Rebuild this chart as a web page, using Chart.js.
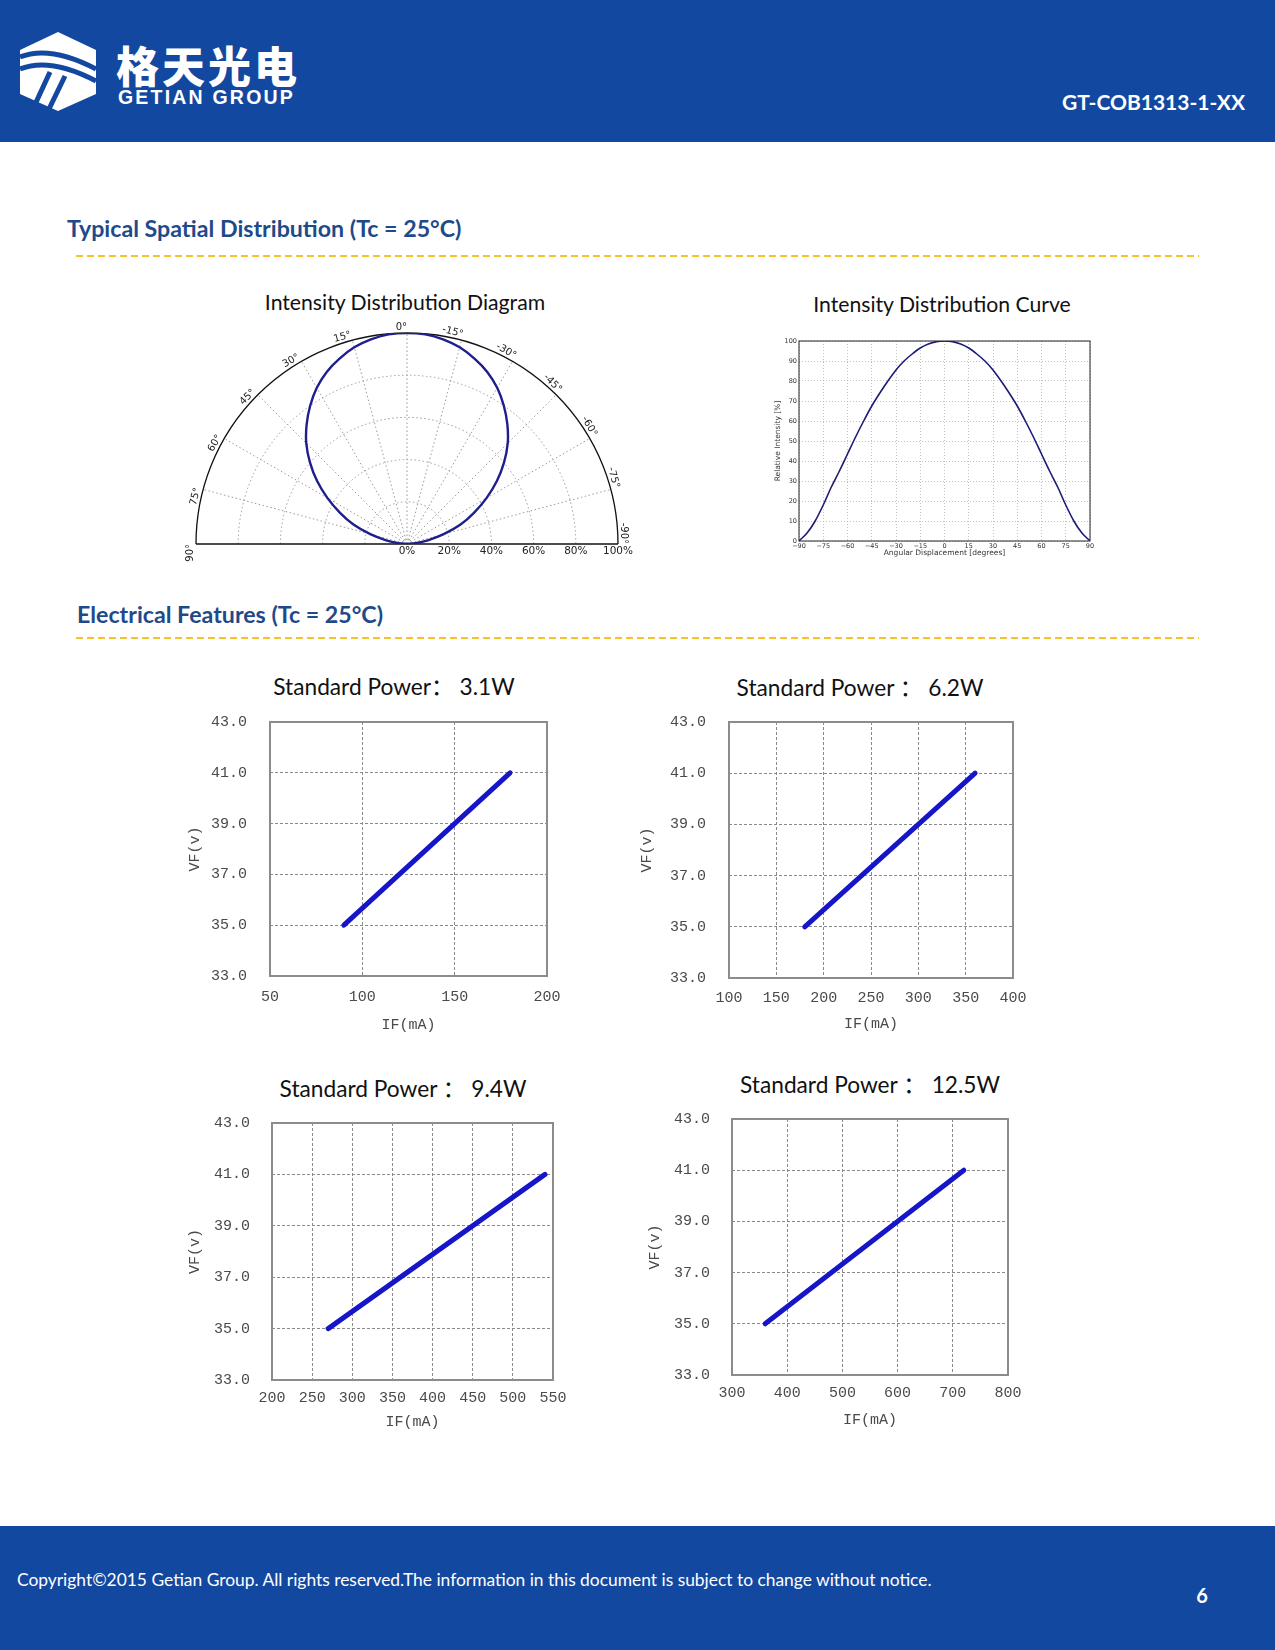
<!DOCTYPE html>
<html lang="en">
<head>
<meta charset="UTF-8" />
<title>GT-COB1313-1-XX — Spatial Distribution &amp; Electrical Features</title>
<script src="https://cdn.jsdelivr.net/npm/chart.js"></script>
<style>
  body { margin: 0; padding: 0; background: #fff; font-family: Lato, "Noto Sans CJK SC", sans-serif; }
  .page { position: relative; width: 1275px; height: 1650px; overflow: hidden; background: #fff; }
  .band { position: absolute; left: 0; width: 1275px; background: #1348a0; }
  .txt { position: absolute; white-space: nowrap; line-height: 1; }
  .mid { transform: translate(-50%, -50%); }
  .vmid { transform: translateY(-50%); }
  .section { font-weight: 700; font-size: 23.2px; color: #1f4a8a; }
  .dash { position: absolute; height: 2px;
    background: repeating-linear-gradient(to right, #f5c42c 0 7px, transparent 7px 11px); }
  .ctitle { font-size: 21.2px; color: #111; }
  .ptitle { font-size: 22.7px; color: #111; }
  canvas { position: absolute; }
</style>
</head>
<body>
<div class="page">
  <!-- header -->
  <div class="band" style="top:0;height:142px"></div>
  <svg style="position:absolute;left:20px;top:32px" width="78" height="79" viewBox="0 0 78 79">
    <polygon points="38,0 76,18 76,62 38,79 0,62 0,18" fill="#fff" />
    <path d="M0,25 Q30,13 76,37" stroke="#1348a0" stroke-width="5" fill="none" />
    <path d="M0,37 Q30,25 76,49" stroke="#1348a0" stroke-width="5" fill="none" />
    <path d="M30,40 L12,79" stroke="#1348a0" stroke-width="5" />
    <path d="M45,44 L28,79" stroke="#1348a0" stroke-width="5" />
  </svg>
  <div class="txt" style="left:116px;top:43px;font-family:'Noto Sans CJK SC';font-weight:900;font-size:43px;letter-spacing:3px;color:#fff">格天光电</div>
  <div class="txt" style="left:118px;top:88px;font-family:'Liberation Sans';font-weight:700;font-size:19.5px;letter-spacing:2.2px;color:#fff">GETIAN GROUP</div>
  <div class="txt" style="right:30px;top:91px;font-weight:700;font-size:21px;color:#fff">GT-COB1313-1-XX</div>

  <!-- spatial distribution -->
  <div class="txt section vmid" style="left:67px;top:229px">Typical Spatial Distribution (Tc = 25°C)</div>
  <div class="dash" style="left:76px;top:255px;width:1123px"></div>
  <div class="txt ctitle mid" style="left:405px;top:303px">Intensity Distribution Diagram</div>
  <div class="txt ctitle mid" style="left:942px;top:305px">Intensity Distribution Curve</div>
  <canvas id="polar"></canvas>
  <canvas id="curve"></canvas>

  <!-- electrical features -->
  <div class="txt section vmid" style="left:77px;top:615px">Electrical Features (Tc = 25°C)</div>
  <div class="dash" style="left:76px;top:637px;width:1123px"></div>
  <div class="txt ptitle mid" style="left:394px;top:687px">Standard Power：&nbsp;3.1W</div>
  <div class="txt ptitle mid" style="left:860px;top:688px">Standard Power ：&nbsp;6.2W</div>
  <div class="txt ptitle mid" style="left:403px;top:1089px">Standard Power ：&nbsp;9.4W</div>
  <div class="txt ptitle mid" style="left:870px;top:1085px">Standard Power ：&nbsp;12.5W</div>
  <canvas id="vf31"></canvas>
  <canvas id="vf62"></canvas>
  <canvas id="vf94"></canvas>
  <canvas id="vf125"></canvas>

  <!-- footer -->
  <div class="band" style="top:1526px;height:124px"></div>
  <div class="txt vmid" style="left:17px;top:1580px;font-size:17.4px;color:#fff">Copyright©2015 Getian Group. All rights reserved.The information in this document is subject to change without notice.</div>
  <div class="txt mid" style="left:1202px;top:1595px;font-size:20px;font-weight:700;color:#fff">6</div>
</div>

<script>
  // relative intensity vs angle
  const angleDeg = [-90, -85, -80, -75, -70, -65, -60, -55, -50, -45, -40, -35, -30, -25, -20, -15, -10, -5,
    0, 5, 10, 15, 20, 25, 30, 35, 40, 45, 50, 55, 60, 65, 70, 75, 80, 85, 90];
  const relIntensity = [0, 4, 10, 18, 27, 35, 43.5, 52, 60, 67.5, 74, 80, 85.5, 90, 93.5, 96.5, 98.5, 99.7,
    100, 99.7, 98.5, 96.5, 93.5, 90, 85.5, 80, 74, 67.5, 60, 52, 43.5, 35, 27, 18, 10, 4, 0];
  const polarAngleTicks = [90, 75, 60, 45, 30, 15, 0, -15, -30, -45, -60, -75, -90];
  const polarRadiusTicks = [0, 20, 40, 60, 80, 100];

  // VF vs IF lines
  const if31 = [90, 180],  vf31 = [35, 41];
  const if62 = [180, 360], vf62 = [35, 41];
  const if94 = [270, 540], vf94 = [35, 41];
  const if125 = [360, 720], vf125 = [35, 41];
  const vfTicks = [33, 35, 37, 39, 41, 43];
  const ifTicks31 = [50, 100, 150, 200];
  const ifTicks62 = [100, 150, 200, 250, 300, 350, 400];
  const ifTicks94 = [200, 250, 300, 350, 400, 450, 500, 550];
  const ifTicks125 = [300, 400, 500, 600, 700, 800];

  Chart.defaults.animation = false;
  Chart.defaults.events = [];
  Chart.defaults.plugins.legend.display = false;
  Chart.defaults.plugins.tooltip.enabled = false;

  function place(canvas, left, top, w, h) {
    canvas.width = w; canvas.height = h;
    canvas.style.left = left + "px"; canvas.style.top = top + "px";
    canvas.style.width = w + "px"; canvas.style.height = h + "px";
  }

  // plot frame around chart area
  function frame(color, width) {
    return {
      id: "frame",
      beforeDatasetsDraw(chart) {
        const { ctx, chartArea: a } = chart;
        ctx.save();
        ctx.strokeStyle = color;
        ctx.lineWidth = width;
        ctx.strokeRect(a.left, a.top, a.right - a.left, a.bottom - a.top);
        ctx.restore();
      },
    };
  }

  // ---- polar diagram ----
  const polarGrid = {
    id: "polarGrid",
    beforeDatasetsDraw(chart) {
      const { ctx, scales: { x, y } } = chart;
      const cx = x.getPixelForValue(0), cy = y.getPixelForValue(0);
      const rad = (v) => x.getPixelForValue(v) - cx;
      ctx.save();
      ctx.strokeStyle = "#9a9a9a";
      ctx.lineWidth = 1;
      ctx.setLineDash([1.5, 2.5]);
      polarRadiusTicks.slice(1, -1).forEach((v) => {
        ctx.beginPath();
        ctx.arc(cx, cy, rad(v), Math.PI, 2 * Math.PI);
        ctx.stroke();
      });
      polarAngleTicks.forEach((a) => {
        if (Math.abs(a) === 90) return;
        const t = (a * Math.PI) / 180;
        ctx.beginPath();
        ctx.moveTo(cx, cy);
        ctx.lineTo(cx - rad(100) * Math.sin(t), cy - rad(100) * Math.cos(t));
        ctx.stroke();
      });
      ctx.setLineDash([]);
      ctx.strokeStyle = "#111";
      ctx.lineWidth = 1.3;
      ctx.beginPath();
      ctx.arc(cx, cy, rad(100), Math.PI, 2 * Math.PI);
      ctx.stroke();
      ctx.beginPath();
      ctx.moveTo(cx - rad(100), cy);
      ctx.lineTo(cx + rad(100), cy);
      ctx.stroke();
      ctx.restore();
    },
    afterDraw(chart) {
      const { ctx, scales: { x, y } } = chart;
      const cx = x.getPixelForValue(0), cy = y.getPixelForValue(0);
      const R = x.getPixelForValue(100) - cx + 3;
      ctx.save();
      ctx.fillStyle = "#222";
      ctx.font = "10px 'DejaVu Sans'";
      ctx.textAlign = "right";
      ctx.textBaseline = "alphabetic";
      polarAngleTicks.forEach((a) => {
        const t = (a * Math.PI) / 180;
        ctx.save();
        ctx.translate(cx - R * Math.sin(t), cy - R * Math.cos(t));
        ctx.rotate(-t);
        ctx.fillText(a + "°", 0, 0);
        ctx.restore();
      });
      ctx.restore();
    },
  };

  const polarCanvas = document.getElementById("polar");
  place(polarCanvas, 170, 300, 470, 270);
  new Chart(polarCanvas, {
    type: "scatter",
    data: {
      datasets: [{
        data: angleDeg.map((a, i) => ({
          x: -relIntensity[i] * Math.sin((a * Math.PI) / 180),
          y: relIntensity[i] * Math.cos((a * Math.PI) / 180),
        })),
        showLine: true,
        borderColor: "#1e1e8c",
        borderWidth: 2.4,
        pointRadius: 0,
        tension: 0.3,
      }],
    },
    options: {
      responsive: false,
      layout: { padding: { left: 26, right: 22, top: 33, bottom: 0 } },
      scales: {
        x: {
          min: -100, max: 100,
          ticks: {
            stepSize: 20, autoSkip: false, maxRotation: 0, padding: 1,
            color: "#222", font: { family: "DejaVu Sans", size: 10.5 },
            callback: (v) => (v >= 0 ? v + "%" : ""),
          },
          grid: { display: false, drawTicks: false },
          border: { display: false },
          afterFit: (s) => { s.height = 26; },
        },
        y: { min: 0, max: 100, display: false },
      },
    },
    plugins: [polarGrid],
  });

  // ---- intensity curve ----
  const curveCanvas = document.getElementById("curve");
  place(curveCanvas, 760, 320, 345, 250);
  const tinyFont = { family: "DejaVu Sans", size: 6.5 };
  new Chart(curveCanvas, {
    type: "scatter",
    data: {
      datasets: [{
        data: angleDeg.map((a, i) => ({ x: a, y: relIntensity[i] })),
        showLine: true,
        borderColor: "#1c1c78",
        borderWidth: 1.6,
        pointRadius: 0,
        tension: 0.3,
      }],
    },
    options: {
      responsive: false,
      layout: { padding: { top: 21, right: 15, left: 0, bottom: 0 } },
      scales: {
        x: {
          min: -90, max: 90,
          ticks: {
            stepSize: 15, autoSkip: false, maxRotation: 0, padding: 1,
            color: "#333", font: tinyFont,
            callback: (v) => String(v).replace("-", "\u2212"),
          },
          grid: { color: "#b4b4b4", lineWidth: 0.8, drawTicks: false },
          border: { display: false, dash: [1, 2] },
          title: {
            display: true, text: "Angular Displacement [degrees]", color: "#333",
            font: { family: "DejaVu Sans", size: 7.5 }, padding: { top: 0, bottom: 12 },
          },
          afterFit: (s) => { s.height = 29; s.paddingLeft = 0; s.paddingRight = 0; },
        },
        y: {
          min: 0, max: 100,
          ticks: { stepSize: 10, padding: 2, color: "#333", font: tinyFont },
          grid: { color: "#b4b4b4", lineWidth: 0.8, drawTicks: false },
          border: { display: false, dash: [1, 2] },
          title: {
            display: true, text: "Relative Intensity [%]", color: "#333",
            font: { family: "DejaVu Sans", size: 7.5 }, padding: { top: 13.5, bottom: 0 },
          },
          afterFit: (s) => { s.width = 39; s.paddingTop = 0; s.paddingBottom = 0; },
        },
      },
    },
    plugins: [frame("#222", 1)],
  });

  // ---- VF / IF charts ----
  const monoFont = { family: "Liberation Mono", size: 15 };
  function vfChart(id, xs, ys, xTicks, box) {
    const canvas = document.getElementById(id);
    const left = box.vfX - 25, top = box.t - 22, right = box.r + 25, bottom = box.ifY + 15;
    place(canvas, left, top, right - left, bottom - top);
    new Chart(canvas, {
      type: "scatter",
      data: {
        datasets: [{
          data: xs.map((x, i) => ({ x, y: ys[i] })),
          showLine: true,
          borderColor: "#1616c8",
          borderWidth: 5,
          borderCapStyle: "round",
          pointRadius: 0,
        }],
      },
      options: {
        responsive: false,
        layout: { padding: { top: 22, right: 25, left: 0, bottom: 0 } },
        scales: {
          x: {
            min: xTicks[0], max: xTicks[xTicks.length - 1],
            ticks: {
              stepSize: xTicks[1] - xTicks[0], autoSkip: false, maxRotation: 0,
              padding: box.xPad, color: "#4a4a4a", font: monoFont,
            },
            grid: { color: "#8a8a8a", lineWidth: 1, drawTicks: false },
            border: { display: false, dash: [3, 2] },
            title: { display: true, text: "IF(mA)", color: "#4a4a4a", font: monoFont, padding: { top: 0, bottom: 6 } },
            // fixed box: keep the label padding from pushing the plot area around
            afterFit: (s) => { s.height = bottom - box.b; s.paddingLeft = 0; s.paddingRight = 0; },
          },
          y: {
            min: vfTicks[0], max: vfTicks[vfTicks.length - 1],
            ticks: {
              stepSize: vfTicks[1] - vfTicks[0], padding: box.l - box.yLabR,
              color: "#4a4a4a", font: monoFont, callback: (v) => v.toFixed(1),
            },
            grid: { color: "#8a8a8a", lineWidth: 1, drawTicks: false },
            border: { display: false, dash: [3, 2] },
            title: { display: true, text: "VF(v)", color: "#4a4a4a", font: monoFont, padding: { top: 16, bottom: 0 } },
            afterFit: (s) => { s.width = box.l - left; s.paddingTop = 0; s.paddingBottom = 0; },
          },
        },
      },
      plugins: [frame("#8c8c8c", 2)],
    });
  }

  vfChart("vf31", if31, vf31, ifTicks31, { l: 270, r: 547, t: 722, b: 976, vfX: 195, ifY: 1025, yLabR: 247, xPad: 12 });
  vfChart("vf62", if62, vf62, ifTicks62, { l: 729, r: 1013, t: 722, b: 978, vfX: 647, ifY: 1024, yLabR: 706, xPad: 11 });
  vfChart("vf94", if94, vf94, ifTicks94, { l: 272, r: 553, t: 1123, b: 1380, vfX: 195, ifY: 1422, yLabR: 250, xPad: 9 });
  vfChart("vf125", if125, vf125, ifTicks125, { l: 732, r: 1008, t: 1119, b: 1375, vfX: 655, ifY: 1420, yLabR: 710, xPad: 9 });
</script>
</body>
</html>
